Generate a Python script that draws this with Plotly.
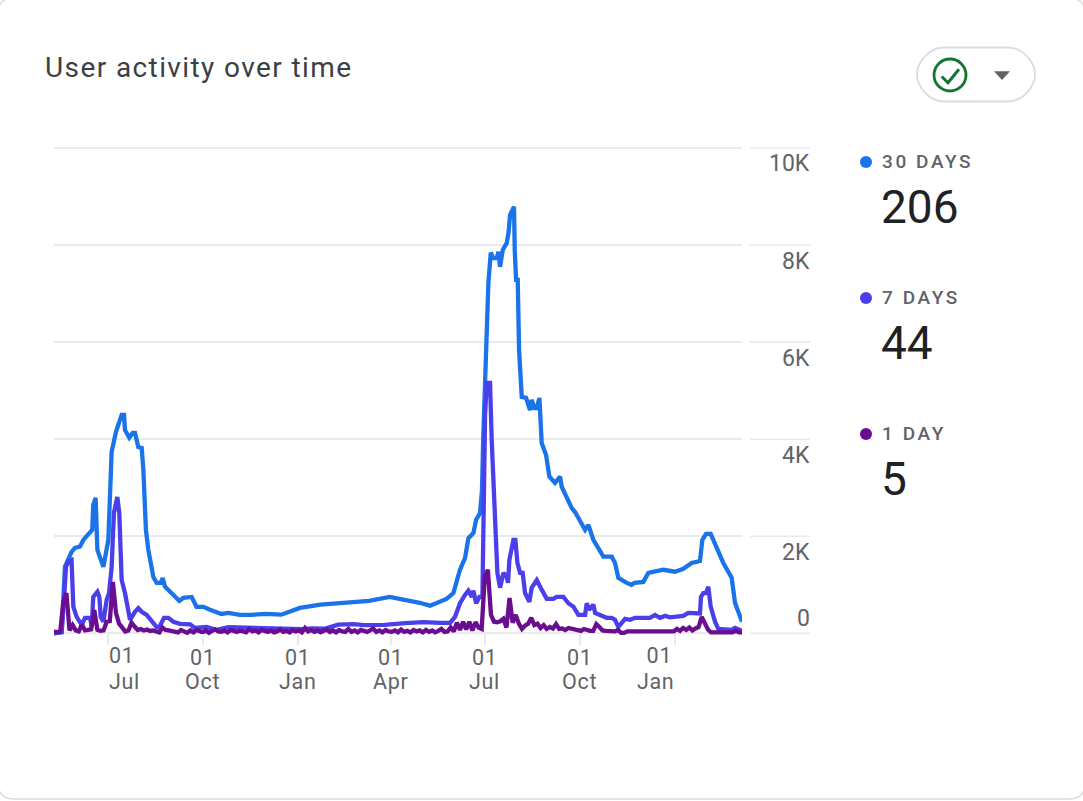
import pandas as pd
import plotly.graph_objects as go

W, H = 1083, 801
START = pd.Timestamp("2022-05-10")
END_DAY = 666

# Series values: day offset from START, users (rows line up one to one)
blue_days = [
    0, 7.4, 10.6, 13.9, 17, 20.3, 25.2, 28.4, 34.9, 37,
    38, 40.3, 42, 44.5, 47.8, 52.6, 55.8, 60, 63.9, 65.5,
    67.8, 68.7, 72.9, 76.2, 78.4, 81.6, 84.9, 86.5, 89, 91.3,
    96.2, 99.4, 103.3, 105.2, 107.5, 112.3, 117.2, 121.3, 125.2, 133.3,
    138, 144.6, 151, 162, 168.8, 180, 190, 205, 220, 238,
    258, 287, 305, 325, 340, 354, 364, 373.7, 380, 386.6,
    393, 397.9, 401.1, 406, 408.6, 412.4, 414.3, 415.5, 418.9, 420.5,
    422.8, 425.3, 428.6, 430.2, 431.8, 434.4, 438.2, 439.9, 441.5, 445.3,
    446, 447.3, 448.9, 450.2, 452.8, 457, 460.8, 462.4, 465, 467.3,
    469.9, 472.1, 476.3, 479.5, 485, 489.9, 491.5, 501.2, 504.4, 509.2,
    514.1, 517.3, 522.1, 531.8, 539.9, 543.1, 546.3, 554.4, 559, 562,
    570.5, 575.3, 589.9, 601.1, 609.2, 617.3, 625.3, 627.6, 631.2, 635.7,
    641.5, 647.9, 656, 659.2, 666,
]
blue_vals = [
    0, 20, 1370, 1514, 1680, 1760, 1790, 1925, 2090, 2130,
    2650, 2790, 1720, 1580, 1370, 1925, 3740, 4150, 4360, 4500,
    4500, 4190, 4030, 4130, 4130, 3840, 3820, 3370, 2130, 1720,
    1160, 1040, 1040, 1140, 960, 855, 730, 670, 730, 750,
    545, 545, 485, 400, 420, 380, 380, 400, 385, 525,
    590, 630, 670, 750, 690, 630, 570, 650, 710, 830,
    1310, 1550, 1960, 2070, 2340, 2480, 2950, 4030, 6390, 7220,
    7840, 7730, 7730, 7860, 7550, 7900, 8040, 8240, 8620, 8790,
    7900, 7280, 7280, 5840, 4870, 4850, 4600, 4810, 4640, 4640,
    4850, 3920, 3680, 3230, 3100, 3230, 3020, 2580, 2500, 2300,
    2130, 2235, 1925, 1580, 1580, 1450, 1145, 1040, 1000, 1040,
    1060, 1245, 1310, 1270, 1330, 1450, 1490, 1925, 2050, 2050,
    1760, 1450, 1145, 630, 240,
]

indigo_days = [
    0, 7.4, 9.7, 11.6, 13.9, 17, 18.7, 21.9, 26.8, 30,
    34.9, 36.5, 38, 42, 43.9, 45.2, 47.8, 51, 53.3, 55.8,
    58, 61.3, 63.2, 65.5, 68.7, 73.6, 78.4, 81.6, 84.9, 89.7,
    99.4, 102, 106.5, 110.7, 115.5, 122, 131.7, 136.5, 147.8, 157.5,
    168.8, 180, 190, 205, 225, 240, 250, 262, 275, 290,
    300, 320, 340, 348, 358, 373.7, 383.4, 388.2, 393, 397.9,
    401.1, 404.4, 406, 408.6, 411.8, 414.7, 415.7, 417.3, 418.9, 422.1,
    423.7, 426.9, 429.2, 431.8, 435, 438.2, 439.5, 440.8, 444.7, 446.6,
    448.6, 451.2, 453.7, 456, 460.2, 462.4, 467.3, 472.1, 477, 483.4,
    486.6, 493.1, 497.9, 502.8, 507.6, 514.1, 515.7, 518, 522.1, 523.8,
    528.6, 535, 539.9, 543.1, 546.3, 552.8, 557.6, 562.4, 577, 581.8,
    586.6, 591.5, 596.3, 609.2, 614, 625.3, 626.3, 628.6, 631.2, 633.4,
    635.7, 639.9, 643.1, 656, 659.2, 666,
]
indigo_vals = [
    0, 30, 700, 1370, 1480, 1510, 550, 340, 175, 320,
    320, 135, 750, 855, 750, 340, 240, 690, 830, 1370,
    2480, 2810, 2480, 1100, 830, 280, 445, 520, 445, 380,
    130, 130, 320, 320, 240, 195, 185, 110, 130, 70,
    130, 120, 125, 110, 90, 85, 100, 95, 180, 190,
    170, 175, 210, 215, 230, 215, 215, 340, 620, 790,
    880, 750, 880, 620, 750, 750, 2610, 4500, 5160, 5160,
    3985, 2270, 1245, 940, 1245, 1165, 1040, 1510, 1925, 1925,
    1450, 1245, 1245, 830, 650, 940, 1100, 900, 710, 710,
    750, 750, 620, 550, 380, 380, 620, 485, 590, 420,
    380, 320, 320, 280, 130, 300, 280, 320, 320, 380,
    320, 360, 330, 360, 420, 410, 750, 830, 830, 960,
    550, 240, 90, 70, 110, 50,
]

# 1-day series, one reading every 3 days from START
purple_vals = [
    30, 30, 30, 640, 830, 60, 170, 60, 40, 180, 60, 70, 80, 480, 70, 50, 60, 240, 250, 1060,
    420, 200, 120, 40, 60, 220, 140, 70, 90, 60, 80, 50, 60, 40, 20, 120, 70, 60, 50, 40,
    20, 70, 40, 10, 60, 20, 70, 40, 20, 60, 10, 50, 80, 40, 30, 60, 20, 70, 40, 30,
    60, 40, 20, 90, 40, 60, 20, 70, 50, 30, 60, 20, 40, 80, 30, 50, 20, 70, 40, 60,
    20, 110, 40, 70, 30, 60, 20, 50, 80, 30, 60, 20, 70, 40, 30, 90, 30, 60, 20, 70,
    40, 30, 60, 100, 30, 60, 20, 70, 40, 30, 60, 20, 80, 30, 50, 20, 70, 40, 60, 20,
    70, 30, 60, 20, 50, 90, 30, 40, 120, 40, 220, 70, 240, 80, 240, 60, 230, 120, 90, 1165,
    1310, 380, 240, 230, 250, 300, 120, 730, 220, 380, 200, 90, 160, 200, 320, 170, 200, 110, 170, 90,
    130, 100, 190, 90, 100, 70, 110, 90, 70, 60, 50, 90, 60, 50, 50, 190, 130, 60, 50, 40,
    40, 40, 70, 10, 10, 40, 40, 40, 40, 40, 40, 40, 40, 40, 40, 40, 40, 40, 40, 40,
    40, 90, 50, 110, 70, 120, 60, 100, 130, 340, 200, 80, 20, 20, 20, 20, 20, 20, 20, 20,
    50, 20, 20,
]
purple_days = [i * 3 for i in range(len(purple_vals))]

series_names = ["30 DAYS", "7 DAYS", "1 DAY"]
series_totals = ["206", "44", "5"]
series_colors = ["#1a73e8", "#4b3fec", "#6a0d91"]

y_ticks = [0, 2000, 4000, 6000, 8000, 10000]
y_labels = ["0", "2K", "4K", "6K", "8K", "10K"]
x_tick_dates = ["2022-07-01", "2022-10-01", "2023-01-01", "2023-04-01", "2023-07-01", "2023-10-01", "2024-01-01"]
x_tick_days = ["01", "01", "01", "01", "01", "01", "01"]
x_tick_months = ["Jul", "Oct", "Jan", "Apr", "Jul", "Oct", "Jan"]

GRID = "#e8eaed"
TEXT_GREY = "#5f6368"
X_FONT = 21.5


def dates(days):
    return START + pd.to_timedelta(days, unit="D")


def px(x):
    return x / W


def py(y):
    return 1 - y / H


fig = go.Figure()
for days, vals, name, color in zip(
    [blue_days, indigo_days, purple_days],
    [blue_vals, indigo_vals, purple_vals],
    series_names,
    series_colors,
):
    fig.add_trace(go.Scatter(x=dates(days), y=vals, mode="lines", name=name,
                             line=dict(color=color, width=4.3, shape="linear"),
                             hoverinfo="skip"))

annotations = []
shapes = []


def text(x, y, s, size, color, anchor="left", yanchor="middle", weight=None, **kw):
    font = dict(family="Roboto, sans-serif", size=size, color=color)
    if weight:
        font["weight"] = weight
    annotations.append(dict(x=x, y=y, text=s, showarrow=False, xanchor=anchor, yanchor=yanchor,
                            xref=kw.pop("xref", "paper"), yref=kw.pop("yref", "paper"), font=font,
                            borderpad=0, align=anchor if anchor != "center" else "center", **kw))


# Card
R = 16
shapes.append(dict(type="path", xref="paper", yref="paper",
                   path=(f"M {px(-2)} {py(-2 + R)} Q {px(-2)} {py(-2)} {px(-2 + R)} {py(-2)} "
                         f"L {px(W + 2 - R)} {py(-2)} Q {px(W + 2)} {py(-2)} {px(W + 2)} {py(-2 + R)} "
                         f"L {px(W + 2)} {py(799 - R)} Q {px(W + 2)} {py(799)} {px(W + 2 - R)} {py(799)} "
                         f"L {px(-2 + R)} {py(799)} Q {px(-2)} {py(799)} {px(-2)} {py(799 - R)} Z"),
                   line=dict(color="#dadce0", width=1.5), fillcolor="#ffffff", layer="below"))

# Title
text(px(44), py(68), "User activity over time", 28, "#3c4043")

# Status pill
L, Rr, T, B = 917, 1035, 47.5, 101.5
r = (B - T) / 2
shapes.append(dict(type="path", xref="paper", yref="paper",
                   path=(f"M {px(L + r)} {py(T)} L {px(Rr - r)} {py(T)} "
                         f"C {px(Rr - r * .45)} {py(T)} {px(Rr)} {py(T + r * .55)} {px(Rr)} {py(T + r)} "
                         f"C {px(Rr)} {py(B - r * .55)} {px(Rr - r * .45)} {py(B)} {px(Rr - r)} {py(B)} "
                         f"L {px(L + r)} {py(B)} "
                         f"C {px(L + r * .45)} {py(B)} {px(L)} {py(B - r * .55)} {px(L)} {py(B - r)} "
                         f"C {px(L)} {py(T + r * .55)} {px(L + r * .45)} {py(T)} {px(L + r)} {py(T)} Z"),
                   line=dict(color="#dadce0", width=1.8), fillcolor="#ffffff"))
shapes.append(dict(type="circle", xref="paper", yref="paper",
                   x0=px(934), x1=px(966), y0=py(91), y1=py(59),
                   line=dict(color="#137333", width=2.8)))
shapes.append(dict(type="path", xref="paper", yref="paper",
                   path=f"M {px(941.7)} {py(76.5)} L {px(948)} {py(82.7)} L {px(959)} {py(69.3)}",
                   line=dict(color="#137333", width=3)))
shapes.append(dict(type="path", xref="paper", yref="paper",
                   path=f"M {px(994)} {py(71.3)} L {px(1010)} {py(71.3)} L {px(1002)} {py(80)} Z",
                   line=dict(width=0), fillcolor=TEXT_GREY))

# Legend block
for i, (name, total, color) in enumerate(zip(series_names, series_totals, series_colors)):
    top = 162 + 136 * i
    shapes.append(dict(type="circle", xref="paper", yref="paper",
                       x0=px(860), x1=px(872), y0=py(top + 6), y1=py(top - 6),
                       line=dict(width=0), fillcolor=color))
    text(px(881), py(top - 0.5), name, 19, TEXT_GREY, weight=500)
    text(px(880), py(top + 45), total, 46, "#202124")

# Y labels and the right-hand stretch of the gridlines
for v, lab in zip(y_ticks, y_labels):
    text(px(811), v, lab, 23, TEXT_GREY, anchor="right", yref="y", yshift=(15 if v == 0 else -16))
    shapes.append(dict(type="line", xref="paper", yref="y", x0=px(750), x1=px(810), y0=v, y1=v,
                       line=dict(color=GRID, width=1.6)))

# Day numbers are axis tick labels; the first and last are edge-aligned, and month names sit below
ticktext = []
last = len(x_tick_dates) - 1
for i, (d, a, b) in enumerate(zip(x_tick_dates, x_tick_days, x_tick_months)):
    edge = "left" if i == 0 else "right" if i == last else None
    if edge:
        ticktext.append("")
        text(d, py(655.5), a, X_FONT, TEXT_GREY, anchor=edge, xref="x", xshift=-2 if edge == "right" else 0)
    else:
        ticktext.append(a)
    text(d, py(681.5), b, X_FONT, TEXT_GREY, anchor=edge or "center", xref="x")

y_bottom = -240  # leaves room under the zero line for the date ticks and line width
y_top = 10040    # keeps the 10K gridline inside the plot area
fig.update_layout(
    width=W, height=H, autosize=False,
    margin=dict(l=0, r=0, t=0, b=0),
    paper_bgcolor="#ffffff", plot_bgcolor="rgba(0,0,0,0)",
    showlegend=False,
    annotations=annotations, shapes=shapes,
    xaxis=dict(domain=[px(54), px(742)], range=[dates(0), dates(END_DAY)], type="date",
               tickmode="array", tickvals=x_tick_dates, ticktext=ticktext,
               ticks="inside", ticklen=11.5, tickwidth=1.6, tickcolor=GRID,
               showgrid=False, zeroline=False, showline=False, ticklabelstandoff=-3,
               tickfont=dict(family="Roboto, sans-serif", size=X_FONT, color=TEXT_GREY)),
    yaxis=dict(domain=[py(645), py(146)], range=[y_bottom, y_top],
               tickmode="array", tickvals=y_ticks, showticklabels=False,
               showgrid=True, gridcolor=GRID, gridwidth=1.6, zeroline=False, showline=False),
)

post = """
document.body.style.margin = '0';
document.body.style.overflow = 'hidden';
document.querySelectorAll('.annotation-text').forEach(function (t) {
  if (/DAY/.test(t.textContent)) { t.style.letterSpacing = '2.6px'; }
  if (/activity/.test(t.textContent)) { t.style.letterSpacing = '1.4px'; }
  if (/^(01|Jul|Oct|Jan|Apr)$/.test(t.textContent)) { t.style.letterSpacing = '0.7px'; }
});
document.querySelectorAll('.xtick text').forEach(function (t) { t.style.letterSpacing = '0.7px'; });
"""
fig.write_html("out.html", config={"displayModeBar": False}, post_script=post)
